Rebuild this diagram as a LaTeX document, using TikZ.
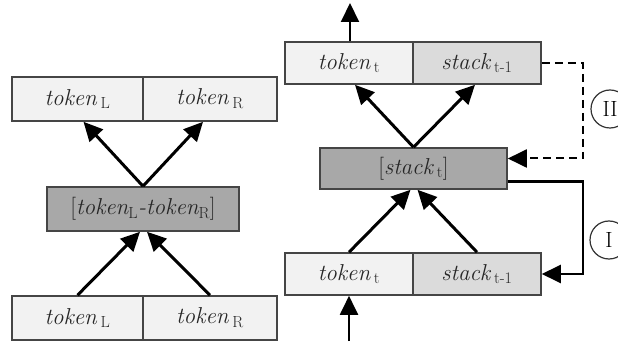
\documentclass[tikz,border=0pt]{standalone}
\usepackage{amsmath}
\usepackage{tikz}
\usetikzlibrary{calc}
\usetikzlibrary{arrows.meta, positioning, shapes.geometric}

\definecolor{cellpale}{gray}{0.95}
\definecolor{cellgray}{gray}{0.86}
\definecolor{cellmid}{gray}{0.66}
\definecolor{edgegray}{gray}{0.27}
\newcommand{\lowidx}[1]{\,\textsubscript{\upshape #1}}
\newcommand{\ubr}[1]{{\upshape #1}}

\begin{document}
\begin{tikzpicture}[x=1pt, y=-1pt,
    cell/.style={rectangle, draw=edgegray, line width=1.6pt, inner sep=0pt,
        minimum height=44pt, text=black!85, font=\fontsize{23}{27}\selectfont\itshape},
    flow/.style={line width=3pt, -{Triangle[length=19pt,width=18pt]}},
    tag/.style={circle, draw=black!80, line width=1.2pt, minimum size=38pt, inner sep=0pt,
        font=\fontsize{22}{26}\selectfont}]
    \useasboundingbox (0,0) rectangle (618,344);

    % left: merge of two tokens
    \node[cell, fill=cellpale, minimum width=131pt] (ltopL) at (77.5,99) {token\lowidx{L}};
    \node[cell, fill=cellpale, minimum width=134pt] (ltopR) at (210,99) {token\lowidx{R}};
    \node[cell, fill=cellmid, minimum width=192pt] (lpair) at (143,209) {\ubr{[}token\textsubscript{\upshape L}-token\textsubscript{\upshape R}\ubr{]}};
    \node[cell, fill=cellpale, minimum width=131pt] (lbotL) at (77.5,318) {token\lowidx{L}};
    \node[cell, fill=cellpale, minimum width=134pt] (lbotR) at (210,318) {token\lowidx{R}};

    \draw[flow] (lpair.north) -- ([xshift=6pt]ltopL.south);
    \draw[flow] (lpair.north) -- ([xshift=-7pt]ltopR.south);
    \draw[flow] (lbotL.north) -- ([xshift=-3pt]lpair.south);
    \draw[flow] (lbotR.north) -- ([xshift=4pt]lpair.south);

    % right: stack step
    \node[cell, fill=cellpale, minimum width=128pt, minimum height=42pt] (rtopT) at (349,63) {token\lowidx{t}};
    \node[cell, fill=cellgray, minimum width=128pt, minimum height=42pt] (rtopS) at (477,63) {stack\lowidx{t-1}};
    \node[cell, fill=cellmid, minimum width=187pt, minimum height=41pt] (rstack) at (413.5,168.5) {\ubr{[}stack\lowidx{t}\ubr{]}};
    \node[cell, fill=cellpale, minimum width=128pt, minimum height=42pt] (rbotT) at (349,274) {token\lowidx{t}};
    \node[cell, fill=cellgray, minimum width=128pt, minimum height=42pt] (rbotS) at (477,274) {stack\lowidx{t-1}};

    \coordinate (outtop) at (350,3);
    \coordinate (inbot) at (349,341);
    \coordinate (loopII) at (583,110);
    \coordinate (loopI) at (583,230);

    \draw[flow] (rstack.north) -- ([xshift=6pt]rtopT.south);
    \draw[flow] (rstack.north) -- ([xshift=-2pt]rtopS.south);
    \draw[flow] (rbotT.north) -- ([xshift=-3pt]rstack.south);
    \draw[flow] (rbotS.north) -- ([xshift=4pt]rstack.south);
    \draw[flow, line width=2pt] ([xshift=1pt]rtopT.north) -- (outtop);
    \draw[flow, line width=2pt] (inbot) -- (rbotT.south);

    \draw[flow, line width=2pt, dashed, dash pattern=on 8pt off 5pt] (rtopS.east) -| (loopII) |- ([yshift=10pt]rstack.east);
    \draw[flow, line width=2.4pt] ([yshift=-13pt]rstack.east) -| (loopI) |- (rbotS.east);

    \node[tag] (tagII) at (610,109) {II};
    \node[tag] (tagI) at (609,240) {I};
\end{tikzpicture}
\end{document}
